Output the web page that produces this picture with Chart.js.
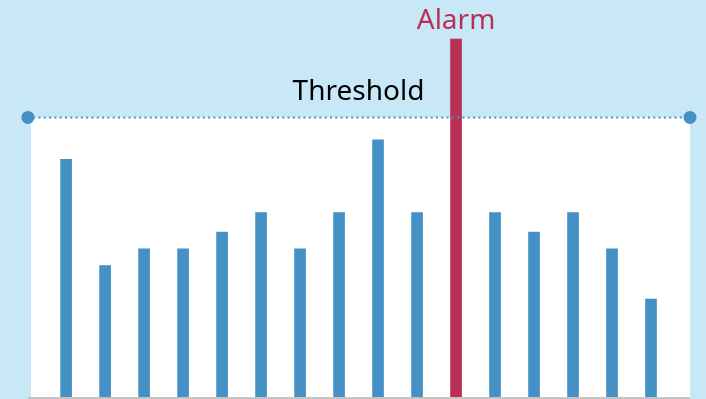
<!DOCTYPE html>
<html>
<head>
<meta charset="utf-8">
<script src="https://cdn.jsdelivr.net/npm/chart.js@4/dist/chart.umd.min.js"></script>
<style>
    html, body { margin: 0; padding: 0; background: #c8e8f8; }
    canvas { display: block; }
</style>
</head>
<body>
<canvas id="chart1" width="706" height="399"></canvas>
<script>
// readings, one per slot
var slots = [1, 2, 3, 4, 5, 6, 7, 8, 9, 10, 11, 12, 13, 14, 15, 16];
var readings = [85, 47, 53, 53, 59, 66, 53, 66, 92, 66, 128, 66, 59, 66, 53, 35];
var threshold = 100;
var alarmIndex = 10;
var thresholdLabel = 'Threshold';
var alarmLabel = 'Alarm';

var blue = '#4590c5';
var red = '#b83056';

var barData = [];
var barColors = [];
for (let i = 0; i < slots.length; i++) {
    barData.push({x: slots[i], y: readings[i]});
    barColors.push(i === alarmIndex ? red : blue);
}

var decorPlugin = {
    id: 'decor',
    beforeDatasetsDraw(chart) {
        var ctx = chart.ctx;
        var area = chart.chartArea;
        var yT = chart.scales.y.getPixelForValue(threshold);
        var y0 = chart.scales.y.getPixelForValue(0);
        ctx.save();
        ctx.fillStyle = '#ffffff';
        ctx.fillRect(area.left, yT, area.right - area.left, y0 - yT + 2);
        ctx.strokeStyle = '#c4c4c4';
        ctx.lineWidth = 2;
        ctx.beginPath();
        ctx.moveTo(area.left - 3, y0 + 1);
        ctx.lineTo(area.right, y0 + 1);
        ctx.stroke();
        ctx.restore();
    },
    afterDraw(chart) {
        var ctx = chart.ctx;
        var area = chart.chartArea;
        var yT = chart.scales.y.getPixelForValue(threshold);
        ctx.save();
        ctx.textAlign = 'center';
        ctx.textBaseline = 'alphabetic';
        ctx.font = '28px "Noto Sans"';
        ctx.fillStyle = '#000000';
        ctx.fillText(thresholdLabel, (area.left + area.right) / 2 - 2, yT - 17);
        var meta = chart.getDatasetMeta(1);
        var bar = meta.data[alarmIndex];
        ctx.fillStyle = red;
        ctx.fillText(alarmLabel, bar.x, bar.y - 10);
        ctx.restore();
    }
};

var ctx = document.getElementById('chart1').getContext('2d');
var chartObj = new Chart(ctx, {
    data: {
        datasets: [{
            type: 'line',
            label: thresholdLabel,
            data: [{x: 0.02, y: threshold}, {x: 17, y: threshold}],
            borderColor: blue,
            backgroundColor: blue,
            borderWidth: 2,
            borderDash: [2, 3.3],
            pointRadius: 5.5,
            pointHoverRadius: 5.5,
            clip: false,
            order: 0,
        }, {
            type: 'bar',
            label: 'Readings',
            data: barData,
            backgroundColor: barColors,
            barThickness: 11,
            order: 1,
        }]
    },
    plugins: [decorPlugin],
    options: {
        responsive: false,
        animation: false,
        layout: { autoPadding: false, padding: { top: 0, bottom: 2, left: 31, right: 16 } },
        plugins: {
            legend: { display: false },
            tooltip: { enabled: false },
        },
        scales: {
            x: { type: 'linear', min: 0.1, max: 17, offset: false, display: false },
            y: { min: 0, max: 142, display: false },
        },
    },
});
</script>
</body>
</html>
